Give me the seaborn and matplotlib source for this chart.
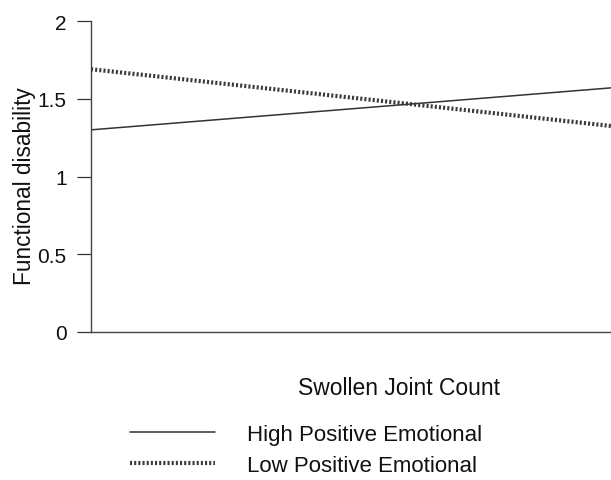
import matplotlib
matplotlib.use("Agg")
import matplotlib.pyplot as plt
from matplotlib.lines import Line2D
import seaborn as sns
import pandas as pd

# Simple-slope endpoints: functional disability at low and high swollen joint count
joint_count = [0, 1]
high_positive = [1.30, 1.57]
low_positive = [1.69, 1.325]
groups = ["High Positive Emotional", "Low Positive Emotional"]
y_ticks = [0, 0.5, 1, 1.5, 2]
y_tick_labels = ["0", "0.5", "1", "1.5", "2"]

df = pd.DataFrame({
    "Swollen Joint Count": joint_count * 2,
    "Functional disability": high_positive + low_positive,
    "group": [groups[0]] * 2 + [groups[1]] * 2,
})

sns.set_style("white")
plt.rcParams["font.family"] = ["Liberation Sans", "DejaVu Sans"]

fig = plt.figure(figsize=(6.11, 4.81), dpi=100)
ax = fig.add_axes([91 / 611, 1 - 333 / 481, 520 / 611, 311 / 481])

sns.lineplot(data=df, x="Swollen Joint Count", y="Functional disability",
             hue="group", style="group", palette=["#333333", "#3a3a3a"],
             dashes={groups[0]: "", groups[1]: (0.5, 0.5)},
             size="group", sizes={groups[0]: 1.1, groups[1]: 3.0},
             legend=False, ax=ax)

ax.set_xlim(0, 1)
ax.set_ylim(0, 2)
ax.set_xticks([])
ax.set_yticks(y_ticks)
ax.set_yticklabels(y_tick_labels)
ax.tick_params(axis="y", direction="out", length=10, width=0.9,
               color="#333333", pad=7.5, labelsize=15, labelcolor="#111111", left=True)

for side in ["top", "right"]:
    ax.spines[side].set_visible(False)
for side in ["left", "bottom"]:
    ax.spines[side].set_color("#444444")
    ax.spines[side].set_linewidth(1.0)

ax.set_xlabel("Swollen Joint Count", fontsize=16.5, color="#111111")
ax.xaxis.set_label_coords((399 - 91) / 520, -44 / 311)
ax.set_ylabel("Functional disability", fontsize=16.3, color="#111111")
ax.yaxis.set_label_coords(-55 / 520, (333 - 186) / 311)

handles = [
    Line2D([], [], color="#333333", lw=1.1),
    Line2D([], [], color="#3a3a3a", lw=3.0, dashes=(0.5, 0.5)),
]
fig.legend(handles, groups, loc="center left",
           bbox_to_anchor=(110 / 611, 1 - 451 / 481), frameon=False,
           fontsize=16, handlelength=3.83, handletextpad=1.44,
           labelspacing=0.47, labelcolor="#111111")

fig.savefig("out.png", dpi=100, facecolor="white")
